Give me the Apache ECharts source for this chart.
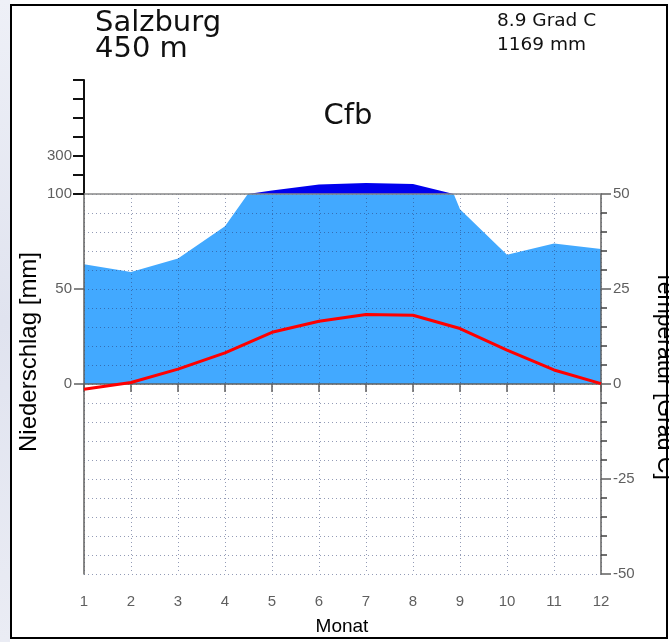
<!DOCTYPE html>
<html>
<head>
<meta charset="utf-8">
<title>Klimadiagramm Salzburg</title>
<script src="https://cdn.jsdelivr.net/npm/echarts@6/dist/echarts.min.js"></script>
<style>
  html, body { margin: 0; padding: 0; background: #ffffff; }
  #chart { width: 669px; height: 642px; }
</style>
</head>
<body>
<div id="chart"></div>
<script>
// Monthly climate normals for Salzburg (450 m)
const months = [1, 2, 3, 4, 5, 6, 7, 8, 9, 10, 11, 12];
const precipitation = [63, 59, 66, 83, 118, 150, 158, 152, 92, 68, 74, 71]; // mm
const temperature = [-1.4, 0.4, 3.9, 8.2, 13.6, 16.5, 18.3, 18.1, 14.6, 8.9, 3.7, 0.1]; // Grad C

const stationName = 'Salzburg';
const stationHeight = '450 m';
const meanTemp = '8.9 Grad C';
const annualPrecip = '1169 mm';
const climateClass = 'Cfb';

const precipLabels = [0, 50, 100];
const precipUpperLabels = [300];
const tempLabels = [-50, -25, 0, 25, 50];

const lightBlue = '#42a9ff';
const darkBlue = '#0000ee';
const gridDots = 'rgba(40,55,110,0.5)';
const axisGrey = '#606060';
const labelGrey = '#5f5f5f';

const precipPairs = months.map((m, i) => [m, precipitation[i]]);
const tempPairs = months.map((m, i) => [m, temperature[i]]);

const chart = echarts.init(document.getElementById('chart'), null, { renderer: 'canvas' });

const dotted = { color: gridDots, width: 1, type: [1, 3] };
const tickFont = { color: labelGrey, fontSize: 15, fontFamily: 'Liberation Sans' };

chart.setOption({
  animation: false,
  backgroundColor: '#ffffff',
  grid: [
    { left: 84, right: 68, top: 194, bottom: 68 },   // main: 0..100 mm / -50..50 C
    { left: 84, right: 68, top: 80, bottom: 448 }    // compressed: 100..700 mm
  ],
  xAxis: [
    {
      gridIndex: 0, type: 'value', min: 1, max: 12, interval: 1, z: 3,
      axisLine: { lineStyle: { color: axisGrey, width: 1.5 } },
      axisTick: { length: 8, lineStyle: { color: axisGrey, width: 1.5 } },
      axisLabel: Object.assign({ margin: 20 }, tickFont),
      splitLine: { show: true, lineStyle: dotted }
    },
    {
      gridIndex: 1, type: 'value', min: 1, max: 12, interval: 1, z: 3,
      axisLine: { show: true, onZero: false, lineStyle: { color: '#888888', width: 1.5 } },
      axisTick: { show: false }, axisLabel: { show: false }, splitLine: { show: false }
    }
  ],
  yAxis: [
    {
      // Niederschlag, lower part (0..100 mm, 10 mm = 5 Grad C)
      gridIndex: 0, type: 'value', position: 'left', min: -100, max: 100, interval: 50, z: 3,
      axisLine: { show: true, onZero: false, lineStyle: { color: axisGrey, width: 1.5 } },
      axisTick: { show: true, customValues: precipLabels, length: 10, lineStyle: { color: axisGrey, width: 1.5 } },
      axisLabel: Object.assign({ customValues: precipLabels, margin: 12 }, tickFont),
      splitLine: { show: false }
    },
    {
      // Temperatur (-50..50 Grad C)
      gridIndex: 0, type: 'value', position: 'right', min: -50, max: 50, interval: 25, z: 3,
      axisLine: { show: true, onZero: false, lineStyle: { color: axisGrey, width: 1.5 } },
      axisTick: { show: true, length: 10, lineStyle: { color: axisGrey, width: 1.5 } },
      minorTick: { show: true, splitNumber: 5, length: 6, lineStyle: { color: '#404040', width: 1.5 } },
      axisLabel: Object.assign({ customValues: tempLabels, margin: 12 }, tickFont),
      splitLine: { show: true, lineStyle: dotted },
      minorSplitLine: { show: true, lineStyle: dotted }
    },
    {
      // Niederschlag above 100 mm, compressed scale
      gridIndex: 1, type: 'value', position: 'left', min: 100, max: 700, interval: 100, z: 3,
      axisLine: { show: true, onZero: false, lineStyle: { color: '#111111', width: 2 } },
      axisTick: { show: true, length: 11, lineStyle: { color: '#111111', width: 2 } },
      axisLabel: Object.assign({ customValues: precipUpperLabels, margin: 12 }, tickFont),
      splitLine: { show: false }
    }
  ],
  series: [
    {
      name: 'Niederschlag',
      type: 'line', xAxisIndex: 0, yAxisIndex: 0, data: precipPairs,
      symbol: 'none', clip: true, z: 1,
      lineStyle: { width: 0 },
      areaStyle: { color: lightBlue, opacity: 1 }
    },
    {
      name: 'Niederschlag > 100 mm',
      type: 'line', xAxisIndex: 1, yAxisIndex: 2, data: precipPairs,
      symbol: 'none', clip: true, z: 1,
      lineStyle: { width: 0 },
      areaStyle: { color: darkBlue, opacity: 1, origin: 'start' }
    },
    {
      name: 'Temperatur',
      type: 'line', xAxisIndex: 0, yAxisIndex: 1, data: tempPairs,
      symbol: 'none', clip: true, z: 10,
      lineStyle: { color: '#ff0000', width: 3 }
    }
  ],
  graphic: [
    {
      type: 'rect', silent: true, z: 0,
      shape: { x: 0, y: 0, width: 10, height: 642 },
      style: {
        fill: new echarts.graphic.LinearGradient(0, 0, 0, 1, [
          { offset: 0, color: '#eef0f7' },
          { offset: 0.5, color: '#e0e3ef' },
          { offset: 1, color: '#eaecf4' }
        ])
      }
    },
    {
      type: 'rect', silent: true, z: 50,
      shape: { x: 11, y: 5, width: 656, height: 633 },
      style: { fill: 'none', stroke: '#000000', lineWidth: 2 }
    },
    {
      type: 'text', z: 60, x: 95, y: 23,
      style: { text: stationName, fontFamily: 'DejaVu Sans', fontSize: 29, fill: '#111111', textVerticalAlign: 'middle' }
    },
    {
      type: 'text', z: 60, x: 95, y: 49,
      style: { text: stationHeight, fontFamily: 'DejaVu Sans', fontSize: 29, fill: '#111111', textVerticalAlign: 'middle' }
    },
    {
      type: 'text', z: 60, x: 497, y: 21,
      style: { text: meanTemp, fontFamily: 'DejaVu Sans', fontSize: 18.5, fill: '#111111', textVerticalAlign: 'middle' }
    },
    {
      type: 'text', z: 60, x: 497, y: 45,
      style: { text: annualPrecip, fontFamily: 'DejaVu Sans', fontSize: 18.5, fill: '#111111', textVerticalAlign: 'middle' }
    },
    {
      type: 'text', z: 60, x: 348, y: 116,
      style: { text: climateClass, fontFamily: 'DejaVu Sans', fontSize: 29, fill: '#111111', textAlign: 'center', textVerticalAlign: 'middle' }
    },
    {
      type: 'text', z: 60, x: 342, y: 627,
      style: { text: 'Monat', fontFamily: 'Liberation Sans', fontSize: 19, fill: '#000000', textAlign: 'center', textVerticalAlign: 'middle' }
    },
    {
      type: 'text', z: 60, x: 29, y: 352, rotation: Math.PI / 2,
      style: { text: 'Niederschlag [mm]', fontFamily: 'Liberation Sans', fontSize: 24, fill: '#000000', textAlign: 'center', textVerticalAlign: 'middle' }
    },
    {
      type: 'text', z: 60, x: 664, y: 375, rotation: -Math.PI / 2,
      style: { text: 'Temperatur [Grad C]', fontFamily: 'Liberation Sans', fontSize: 23, fill: '#000000', textAlign: 'center', textVerticalAlign: 'middle' }
    }
  ]
});
</script>
</body>
</html>
